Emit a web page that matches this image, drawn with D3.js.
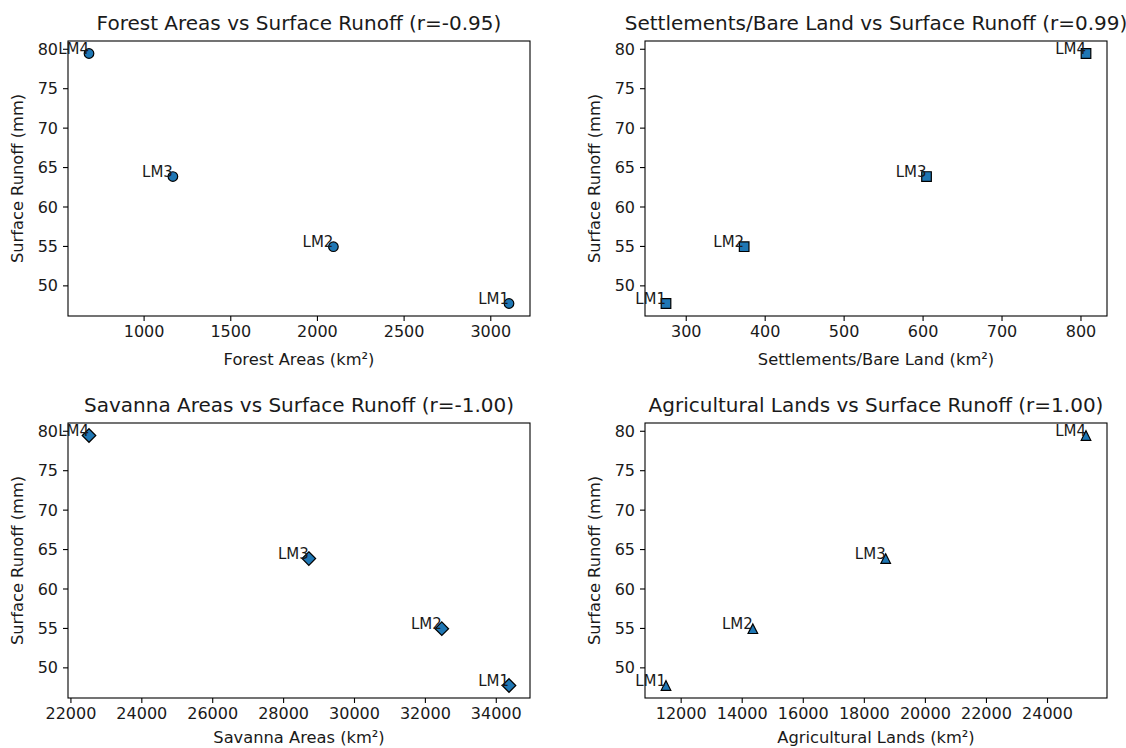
<!DOCTYPE html>
<html>
<head>
<meta charset="utf-8">
<script src="https://cdn.jsdelivr.net/npm/d3@7"></script>
<style>
  body { margin: 0; background: #fff; }
  svg { display: block; font-family: "DejaVu Sans", sans-serif; }
</style>
</head>
<body>
<div id="chart"></div>
<script>
// Data (LM1..LM4)
var sites = ["LM1", "LM2", "LM3", "LM4"];
var runoff = [47.7, 54.9, 63.8, 79.4];
var forest = [3108, 2095, 1169, 685];
var settlements = [275, 374, 605, 807];
var savanna = [34373, 32477, 28726, 22524];
var agriculture = [11520, 14365, 18716, 25277];

var runoffTicks = [50, 55, 60, 65, 70, 75, 80];
var forestTicks = [1000, 1500, 2000, 2500, 3000];
var settleTicks = [300, 400, 500, 600, 700, 800];
var savannaTicks = [22000, 24000, 26000, 28000, 30000, 32000, 34000];
var agriTicks = [12000, 14000, 16000, 18000, 20000, 22000, 24000];

var panels = [
  { title: "Forest Areas vs Surface Runoff (r=-0.95)", xlabel: "Forest Areas (km²)", x: forest, ticks: forestTicks, marker: "circle" },
  { title: "Settlements/Bare Land vs Surface Runoff (r=0.99)", xlabel: "Settlements/Bare Land (km²)", x: settlements, ticks: settleTicks, marker: "square" },
  { title: "Savanna Areas vs Surface Runoff (r=-1.00)", xlabel: "Savanna Areas (km²)", x: savanna, ticks: savannaTicks, marker: "diamond" },
  { title: "Agricultural Lands vs Surface Runoff (r=1.00)", xlabel: "Agricultural Lands (km²)", x: agriculture, ticks: agriTicks, marker: "triangle" }
];

var svgWidth = 1126, svgHeight = 748;
var colLeft = [68, 645], rowTop = [41, 423];
var plotW = 462, plotH = 275;

var svg = d3.select("#chart").append("svg")
    .attr("width", svgWidth)
    .attr("height", svgHeight);

// matplotlib-like 5% padding around the data
function padded(vals) {
    var lo = d3.min(vals), hi = d3.max(vals), m = (hi - lo) * 0.05;
    return [lo - m, hi + m];
}

var ms = 9.6; // marker size in px
var markerPath = {
    circle: function () { return d3.symbol(d3.symbolCircle, Math.PI * (ms / 2) * (ms / 2))(); },
    square: function () { var h = ms / 2; return `M${-h},${-h}H${h}V${h}H${-h}Z`; },
    diamond: function () { var h = ms / Math.SQRT2; return `M0,${-h}L${h},0L0,${h}L${-h},0Z`; },
    triangle: function () { var h = ms / 2; return `M0,${-h}L${h},${h}L${-h},${h}Z`; }
};

panels.forEach(function (p, i) {
    var row = Math.floor(i / 2);
    var left = colLeft[i % 2], top = rowTop[row];
    var g = svg.append("g").attr("transform", `translate(${left}, ${top})`);

    var xScale = d3.scaleLinear().domain(padded(p.x)).range([0, plotW]);
    var yScale = d3.scaleLinear().domain(padded(runoff)).range([plotH, 0]);

    var xAxis = d3.axisBottom(xScale).tickValues(p.ticks).tickFormat(d3.format("d"))
        .tickSizeInner(5).tickSizeOuter(0).tickPadding(5);
    var yAxis = d3.axisLeft(yScale).tickValues(runoffTicks).tickFormat(d3.format("d"))
        .tickSizeInner(5).tickSizeOuter(0).tickPadding(5);

    var gx = g.append("g").attr("transform", `translate(0, ${plotH})`).call(xAxis);
    var gy = g.append("g").call(yAxis);
    [gx, gy].forEach(function (a) {
        a.select(".domain").remove();
        a.selectAll("line").attr("stroke", "#000").attr("stroke-width", 1.1);
        a.selectAll("text").attr("font-size", "16px").attr("fill", "#1a1a1a")
            .attr("font-family", "DejaVu Sans, sans-serif");
    });
    gy.selectAll("text").attr("dy", "0.35em");

    // frame
    g.append("rect")
        .attr("width", plotW).attr("height", plotH)
        .attr("fill", "none").attr("stroke", "#000").attr("stroke-width", 1.1);

    // title and axis labels
    g.append("text")
        .attr("x", plotW / 2).attr("y", -11)
        .attr("text-anchor", "middle")
        .attr("font-size", "20px").attr("fill", "#1a1a1a")
        .text(p.title);

    g.append("text")
        .attr("x", plotW / 2).attr("y", plotH + (row === 0 ? 49 : 45))
        .attr("text-anchor", "middle")
        .attr("font-size", "16.3px").attr("fill", "#1a1a1a")
        .text(p.xlabel);

    g.append("text")
        .attr("transform", `translate(${-45}, ${plotH / 2}) rotate(-90)`)
        .attr("text-anchor", "middle")
        .attr("font-size", "16.3px").attr("fill", "#1a1a1a")
        .text("Surface Runoff (mm)");

    // points
    g.selectAll(".pt")
        .data(sites)
        .enter()
        .append("path")
        .attr("class", "pt")
        .attr("d", markerPath[p.marker]())
        .attr("transform", (d, j) => `translate(${xScale(p.x[j])}, ${yScale(runoff[j])})`)
        .attr("fill", "#1f77b4")
        .attr("stroke", "#000")
        .attr("stroke-width", 1.2);

    // site labels, right-aligned on the point baseline
    g.selectAll(".lbl")
        .data(sites)
        .enter()
        .append("text")
        .attr("class", "lbl")
        .attr("x", (d, j) => xScale(p.x[j]))
        .attr("y", (d, j) => yScale(runoff[j]))
        .attr("text-anchor", "end")
        .attr("font-size", "15px")
        .attr("fill", "#1a1a1a")
        .text(d => d);
});
</script>
</body>
</html>
